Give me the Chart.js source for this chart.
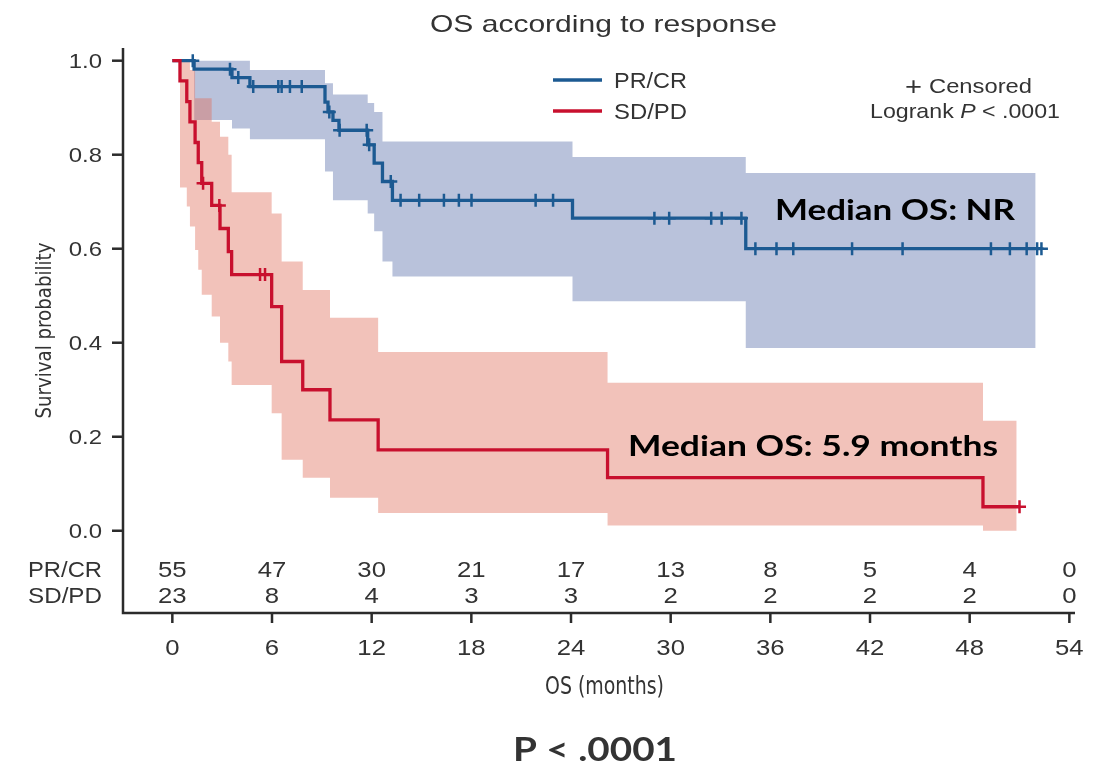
<!DOCTYPE html>
<html lang="en">
<head>
<meta charset="UTF-8" />
<title>OS according to response</title>
<script src="https://cdn.jsdelivr.net/npm/chart.js"></script>
<style>
  html, body { margin: 0; padding: 0; background: #fff; }
  #km { display: block; }
</style>
</head>
<body>
<canvas id="km" width="1102" height="768"></canvas>
<script>
// PR/CR arm: step times (months), KM estimate, 95% CI
const prcrTimes = [0, 1.31, 3.59, 4.67, 9.19, 9.37, 9.67, 10.03, 11.76, 12.15, 12.65, 13.25, 24.09, 34.52];
const prcrSurv  = [1, 0.982, 0.964, 0.945, 0.912, 0.891, 0.873, 0.852, 0.821, 0.782, 0.743, 0.703, 0.665, 0.600];
const prcrLower = [1, 0.874, 0.856, 0.833, 0.764, 0.764, 0.703, 0.703, 0.675, 0.637, 0.573, 0.541, 0.488, 0.389];
const prcrUpper = [1, 1.0, 1.0, 0.98, 0.952, 0.952, 0.928, 0.928, 0.91, 0.891, 0.828, 0.828, 0.795, 0.761];
const prcrCensored = [1.23, 3.47, 3.97, 4.87, 6.38, 6.58, 7.08, 7.79, 9.45, 10.07, 11.7, 11.85, 13.15,
  13.74, 14.86, 16.35, 17.25, 18.01, 21.87, 22.92, 29.02, 29.91, 32.44, 33.07, 34.26,
  35.1, 36.37, 37.38, 40.92, 43.96, 49.28, 50.42, 51.43, 52.06, 52.32];
const prcrEnd = 52.32;
const prcrBandEnd = 51.97;

// SD/PD arm
const sdpdTimes = [0, 0.46, 0.87, 1.06, 1.37, 1.56, 1.77, 2.37, 2.87, 3.37, 3.57, 5.98, 6.58, 7.85, 9.49, 12.39, 26.2, 48.8];
const sdpdSurv  = [1, 0.957, 0.913, 0.870, 0.826, 0.783, 0.739, 0.692, 0.643, 0.594, 0.545, 0.477, 0.360, 0.300, 0.236, 0.172, 0.113, 0.051];
const sdpdLower = [1, 0.73, 0.69, 0.647, 0.597, 0.555, 0.502, 0.456, 0.40, 0.36, 0.31, 0.25, 0.151, 0.113, 0.07, 0.038, 0.011, 0.0];
const sdpdUpper = [1, 1.0, 1.0, 0.98, 0.92, 0.92, 0.92, 0.87, 0.838, 0.80, 0.72, 0.675, 0.573, 0.512, 0.453, 0.38, 0.315, 0.234];
const sdpdCensored = [1.85, 2.83, 5.28, 5.58, 51.0];
const sdpdEnd = 51.0;
const sdpdBandEnd = 50.83;

// number at risk table
const riskTimes = [0, 6, 12, 18, 24, 30, 36, 42, 48, 54];
const prcrAtRisk = [55, 47, 30, 21, 17, 13, 8, 5, 4, 0];
const sdpdAtRisk = [23, 8, 4, 3, 3, 2, 2, 2, 2, 0];

const xTicks = [0, 6, 12, 18, 24, 30, 36, 42, 48, 54];
const yTicks = [0, 0.2, 0.4, 0.6, 0.8, 1.0];

const BLUE = '#1c5a92';
const RED = '#c8102e';
const BLUE_BAND = 'rgba(70, 95, 160, 0.38)';
const RED_BAND = 'rgba(225, 110, 90, 0.42)';
const TEXT = '#333';
const SANS = '"Liberation Sans", Arial, Helvetica, sans-serif';
const NARROW = '"Liberation Sans Narrow", "DejaVu Sans Condensed", "Liberation Sans", sans-serif';
const BOLD = 'bold 29px Lato, "Open Sans", sans-serif';

function stepPoints(times, values, end) {
  const pts = times.map((t, i) => ({ x: t, y: values[i] }));
  pts.push({ x: end, y: values[values.length - 1] });
  return pts;
}

function valueAt(times, values, t) {
  let v = values[0];
  for (let i = 0; i < times.length; i++) {
    if (times[i] <= t) v = values[i];
  }
  return v;
}

function censorPoints(times, values, cens) {
  return cens.map((t) => ({ x: t, y: valueAt(times, values, t) }));
}

function band(times, values, end) {
  return stepPoints(times.slice(1), values.slice(1), end);
}

function drawText(ctx, str, x, y, font, color, align, sx) {
  ctx.save();
  ctx.font = font;
  ctx.fillStyle = color;
  ctx.textBaseline = 'alphabetic';
  ctx.textAlign = 'left';
  const w = ctx.measureText(str).width * sx;
  const x0 = align === 'center' ? x - w / 2 : align === 'right' ? x - w : x;
  ctx.translate(x0, y);
  ctx.scale(sx, 1);
  ctx.fillText(str, 0, 0);
  ctx.restore();
}

function fitText(ctx, str, x, y, font, color, align, width) {
  ctx.save();
  ctx.font = font;
  const sx = width / ctx.measureText(str).width;
  ctx.restore();
  drawText(ctx, str, x, y, font, color, align, sx);
}

const decorations = {
  id: 'decorations',
  afterDraw(chart) {
    const { ctx, chartArea: a } = chart;
    const xs = chart.scales.x;
    const ys = chart.scales.y;
    ctx.save();

    // axes
    ctx.strokeStyle = '#2b2b2b';
    ctx.lineWidth = 2.5;
    ctx.beginPath();
    ctx.moveTo(a.left, a.top);
    ctx.lineTo(a.left, a.bottom);
    ctx.lineTo(a.right, a.bottom);
    ctx.stroke();

    yTicks.forEach((v) => {
      const py = ys.getPixelForValue(v);
      ctx.beginPath();
      ctx.moveTo(a.left - 11, py);
      ctx.lineTo(a.left, py);
      ctx.stroke();
      drawText(ctx, v.toFixed(1), a.left - 21, py + 7.5, '21px ' + SANS, TEXT, 'right', 1.14);
    });

    xTicks.forEach((t) => {
      const px = xs.getPixelForValue(t);
      ctx.beginPath();
      ctx.moveTo(px, a.bottom);
      ctx.lineTo(px, a.bottom + 10);
      ctx.stroke();
      drawText(ctx, String(t), px, a.bottom + 42, '22px ' + SANS, TEXT, 'center', 1.17);
    });

    // number at risk
    riskTimes.forEach((t, i) => {
      const px = xs.getPixelForValue(t);
      drawText(ctx, String(prcrAtRisk[i]), px, a.bottom - 36, '22px ' + SANS, TEXT, 'center', 1.17);
      drawText(ctx, String(sdpdAtRisk[i]), px, a.bottom - 10, '22px ' + SANS, TEXT, 'center', 1.17);
    });
    fitText(ctx, 'PR/CR', 102, a.bottom - 36, '22px ' + SANS, TEXT, 'right', 74);
    fitText(ctx, 'SD/PD', 102, a.bottom - 10, '22px ' + SANS, TEXT, 'right', 74);

    // titles
    fitText(ctx, 'OS according to response', 603.5, 32, '24px ' + SANS, TEXT, 'center', 347);
    fitText(ctx, 'OS (months)', 604.5, 694, '25px ' + NARROW, TEXT, 'center', 119);
    ctx.save();
    ctx.translate(51, 330.5);
    ctx.rotate(-Math.PI / 2);
    fitText(ctx, 'Survival probability', 0, 0, '22px ' + NARROW, TEXT, 'center', 176);
    ctx.restore();

    // legend
    ctx.lineWidth = 3.5;
    ctx.strokeStyle = BLUE;
    ctx.beginPath();
    ctx.moveTo(553, 80);
    ctx.lineTo(602, 80);
    ctx.stroke();
    ctx.strokeStyle = RED;
    ctx.beginPath();
    ctx.moveTo(553, 111);
    ctx.lineTo(602, 111);
    ctx.stroke();
    fitText(ctx, 'PR/CR', 614, 88, '22px ' + SANS, TEXT, 'left', 73);
    fitText(ctx, 'SD/PD', 614, 119, '22px ' + SANS, TEXT, 'left', 73);
    fitText(ctx, '+', 905, 95, '26px ' + SANS, TEXT, 'left', 17);
    fitText(ctx, 'Censored', 929, 93, '21px ' + SANS, TEXT, 'left', 103);

    // Logrank P < .0001 with italic P
    const parts = [['Logrank ', '21px ' + SANS], ['P', 'italic 21px ' + SANS], [' < .0001', '21px ' + SANS]];
    let total = 0;
    parts.forEach((p) => { ctx.font = p[1]; total += ctx.measureText(p[0]).width; });
    const sx = 190 / total;
    let cx = 870;
    parts.forEach((p) => {
      ctx.font = p[1];
      const w = ctx.measureText(p[0]).width * sx;
      drawText(ctx, p[0], cx, 118, p[1], TEXT, 'left', sx);
      cx += w;
    });

    // annotations
    fitText(ctx, 'Median OS: NR', 775, 220, BOLD, '#000', 'left', 240);
    fitText(ctx, 'Median OS: 5.9 months', 628, 456, BOLD, '#000', 'left', 370);
    fitText(ctx, 'P < .0001', 595, 761, 'bold 32px Lato, "Open Sans", sans-serif', '#333', 'center', 164);

    ctx.restore();
  }
};

const lineBase = { stepped: 'before', pointRadius: 0, tension: 0, fill: false };

new Chart(document.getElementById('km'), {
  type: 'line',
  data: {
    datasets: [
      { ...lineBase, data: band(prcrTimes, prcrLower, prcrBandEnd), borderColor: 'rgba(0,0,0,0)', borderWidth: 0, order: 8 },
      { ...lineBase, data: band(prcrTimes, prcrUpper, prcrBandEnd), borderColor: 'rgba(0,0,0,0)', borderWidth: 0,
        fill: '-1', backgroundColor: BLUE_BAND, order: 7 },
      { ...lineBase, data: band(sdpdTimes, sdpdLower, sdpdBandEnd), borderColor: 'rgba(0,0,0,0)', borderWidth: 0, order: 6 },
      { ...lineBase, data: band(sdpdTimes, sdpdUpper, sdpdBandEnd), borderColor: 'rgba(0,0,0,0)', borderWidth: 0,
        fill: '-1', backgroundColor: RED_BAND, order: 5 },
      { ...lineBase, label: 'PR/CR', data: stepPoints(prcrTimes, prcrSurv, prcrEnd), borderColor: BLUE, borderWidth: 3.3, order: 4 },
      { label: 'PR/CR censored', data: censorPoints(prcrTimes, prcrSurv, prcrCensored), showLine: false,
        pointStyle: 'cross', pointRadius: 6.5, pointBorderWidth: 2.5, pointBorderColor: BLUE, borderColor: BLUE, order: 3 },
      { ...lineBase, label: 'SD/PD', data: stepPoints(sdpdTimes, sdpdSurv, sdpdEnd), borderColor: RED, borderWidth: 3.3, order: 2 },
      { label: 'SD/PD censored', data: censorPoints(sdpdTimes, sdpdSurv, sdpdCensored), showLine: false,
        pointStyle: 'cross', pointRadius: 6.5, pointBorderWidth: 2.5, pointBorderColor: RED, borderColor: RED, order: 1 }
    ]
  },
  options: {
    responsive: false,
    animation: false,
    layout: { padding: { left: 123, right: 27, top: 48, bottom: 155 } },
    scales: {
      x: { type: 'linear', min: -2.97, max: 54.34, display: false },
      y: { type: 'linear', min: -0.175, max: 1.027, display: false }
    },
    plugins: {
      legend: { display: false },
      tooltip: { enabled: false }
    }
  },
  plugins: [decorations]
});
</script>
</body>
</html>
